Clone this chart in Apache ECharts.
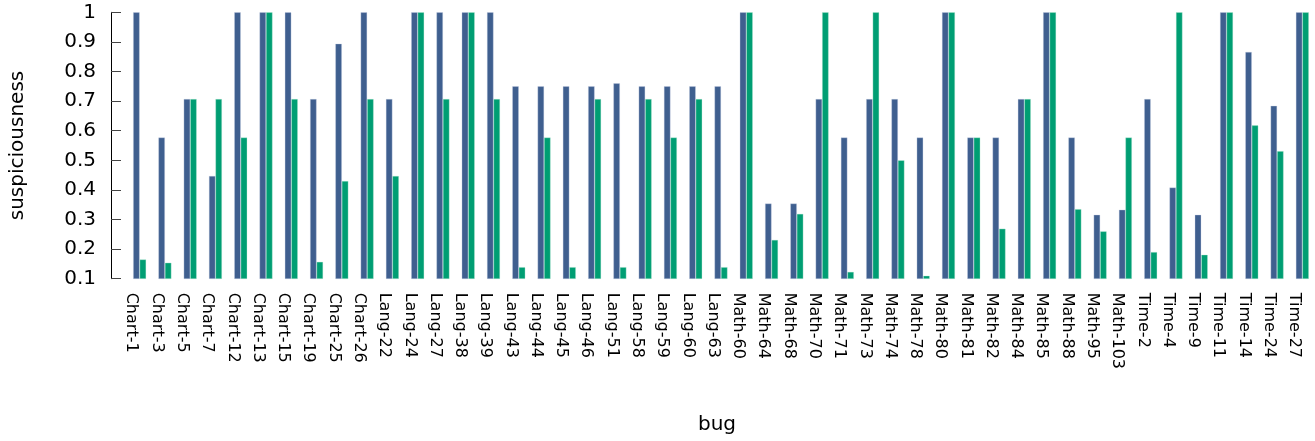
<!DOCTYPE html>
<html>
<head>
<meta charset="utf-8">
<script src="https://cdn.jsdelivr.net/npm/echarts@6/dist/echarts.min.js"></script>
<style>
  html, body { margin: 0; padding: 0; background: #fff; }
  #chart { width: 1315px; height: 441px; }
</style>
</head>
<body>
<div id="chart"></div>
<script>
// bugs on the x axis
const bugs = [
  'Chart-1', 'Chart-3', 'Chart-5', 'Chart-7', 'Chart-12', 'Chart-13', 'Chart-15', 'Chart-19', 'Chart-25', 'Chart-26',
  'Lang-22', 'Lang-24', 'Lang-27', 'Lang-38', 'Lang-39', 'Lang-43', 'Lang-44', 'Lang-45', 'Lang-46', 'Lang-51',
  'Lang-58', 'Lang-59', 'Lang-60', 'Lang-63',
  'Math-60', 'Math-64', 'Math-68', 'Math-70', 'Math-71', 'Math-73', 'Math-74', 'Math-78', 'Math-80', 'Math-81',
  'Math-82', 'Math-84', 'Math-85', 'Math-88', 'Math-95', 'Math-103',
  'Time-2', 'Time-4', 'Time-9', 'Time-11', 'Time-14', 'Time-24', 'Time-27'
];

// first (blue) series
const blueValues = [
  1, 0.577, 0.707, 0.447, 1, 1, 1, 0.707, 0.894, 1,
  0.707, 1, 1, 1, 1, 0.75, 0.75, 0.75, 0.75, 0.76,
  0.75, 0.75, 0.75, 0.75,
  1, 0.354, 0.354, 0.707, 0.577, 0.707, 0.707, 0.577, 1, 0.577,
  0.577, 0.707, 1, 0.577, 0.316, 0.333,
  0.707, 0.408, 0.316, 1, 0.866, 0.684, 1
];

// second (green) series
const greenValues = [
  0.165, 0.154, 0.707, 0.707, 0.577, 1, 0.707, 0.157, 0.43, 0.707,
  0.447, 1, 0.707, 1, 0.707, 0.139, 0.577, 0.139, 0.707, 0.139,
  0.707, 0.577, 0.707, 0.139,
  1, 0.231, 0.319, 1, 0.123, 1, 0.5, 0.11, 1, 0.577,
  0.269, 0.707, 1, 0.335, 0.26, 0.577,
  0.19, 1, 0.181, 1, 0.618, 0.531, 1
];

const font = 'DejaVu Sans';

const chart = echarts.init(document.getElementById('chart'), null, { renderer: 'canvas' });

const option = {
  animation: false,
  backgroundColor: '#fff',
  grid: { left: 124.6, top: 12.3, width: 1191.5, height: 266.4 },
  xAxis: {
    type: 'category',
    data: bugs,
    name: 'bug',
    nameLocation: 'middle',
    nameGap: 136,
    nameTextStyle: { fontFamily: font, fontSize: 20, color: '#000', padding: [0, 8, 0, 0] },
    axisLine: { show: false },
    axisTick: { show: false },
    axisLabel: {
      interval: 0,
      rotate: -90,
      margin: 14,
      fontFamily: font,
      fontSize: 16,
      color: '#000',
      verticalAlign: 'top'
    }
  },
  yAxis: {
    type: 'value',
    min: 0.1,
    max: 1,
    interval: 0.1,
    offset: 16,
    name: 'suspiciousness',
    nameLocation: 'middle',
    nameGap: 83,
    nameTextStyle: { fontFamily: font, fontSize: 20, color: '#000' },
    splitLine: { show: false },
    axisLine: { show: true, lineStyle: { color: '#000', width: 1 } },
    axisTick: { show: true, inside: true, length: 10, lineStyle: { color: '#444', width: 1 } },
    axisLabel: {
      margin: 15,
      fontFamily: font,
      fontSize: 20,
      color: '#000',
      formatter: v => String(+v.toFixed(1))
    }
  },
  series: [
    {
      name: 'blue',
      type: 'bar',
      data: blueValues,
      barWidth: 6.5,
      barGap: '0%',
      itemStyle: { color: '#3f5f8f', borderColor: 'rgba(200,210,230,0.7)', borderWidth: 0.5 }
    },
    {
      name: 'green',
      type: 'bar',
      data: greenValues,
      barWidth: 6.5,
      barGap: '0%',
      itemStyle: { color: '#009e73', borderColor: 'rgba(190,235,215,0.7)', borderWidth: 0.5 }
    }
  ]
};

chart.setOption(option);
</script>
</body>
</html>
